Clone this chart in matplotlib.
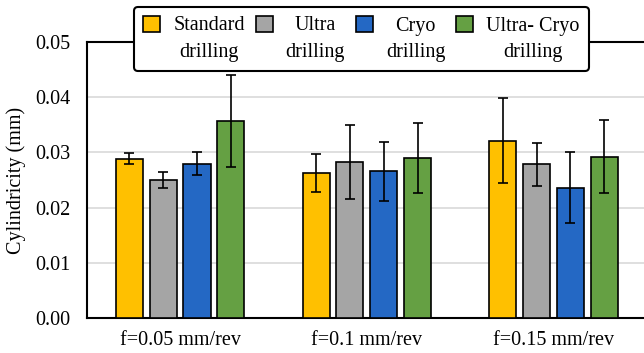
import matplotlib
matplotlib.use("Agg")
import matplotlib.pyplot as plt
import numpy as np
from matplotlib.legend_handler import HandlerPatch, update_from_first_child
from matplotlib.patches import Rectangle
from matplotlib.container import BarContainer

groups = ["f=0.05 mm/rev", "f=0.1 mm/rev", "f=0.15 mm/rev"]
series = ["Standard\ndrilling", "Ultra\ndrilling", "Cryo\ndrilling", "Ultra- Cryo\ndrilling"]
standard = [0.0289, 0.0263, 0.0321]
ultra = [0.0250, 0.0282, 0.0279]
cryo = [0.0280, 0.0266, 0.0236]
ultra_cryo = [0.0357, 0.0290, 0.0292]
standard_err = [0.0010, 0.0035, 0.0077]
ultra_err = [0.0015, 0.0067, 0.0039]
cryo_err = [0.0021, 0.0053, 0.0064]
ultra_cryo_err = [0.0084, 0.0063, 0.0066]
yticks = [0.00, 0.01, 0.02, 0.03, 0.04, 0.05]

values = [standard, ultra, cryo, ultra_cryo]
errors = [standard_err, ultra_err, cryo_err, ultra_cryo_err]
colors = ["#FFC000", "#A5A5A5", "#2468C4", "#65A043"]

plt.rcParams['font.family'] = ['Liberation Serif', 'DejaVu Serif']
plt.rcParams['font.size'] = 14.5

fig = plt.figure(figsize=(6.44, 3.53), dpi=100)
ax = fig.add_axes([0.1346, 0.0983, 0.870, 0.783])

x = np.arange(len(groups))
step = 0.181
width = 0.145
for i, (vals, errs, c, lab) in enumerate(zip(values, errors, colors, series)):
    off = (i - 1.5) * step
    ax.bar(x + off, vals, width, color=c, edgecolor="black", linewidth=1.2,
           label=lab, zorder=3,
           yerr=errs, error_kw=dict(ecolor="black", elinewidth=1.2, capsize=3.5, capthick=1.2, zorder=4))

ax.set_xlim(-0.5, 2.5)
ax.set_ylim(0, 0.05)
ax.set_yticks(yticks)
ax.set_yticklabels([f"{t:.2f}" for t in yticks])
ax.set_xticks(x)
ax.set_xticklabels(groups)
ax.tick_params(length=0)
ax.tick_params(axis='y', pad=12)
ax.tick_params(axis='x', pad=9)
ax.yaxis.grid(True, color="#D9D9D9", linewidth=1.2, zorder=0)
ax.set_axisbelow(True)
for s in ax.spines.values():
    s.set_linewidth(1.5)
    s.set_color("black")
ax.set_ylabel("Cylindricity (mm)", labelpad=6)

LS = 1.5
shift = 10.8


def make_rect(legend, orig_handle, xdescent, ydescent, width, height, fontsize):
    return Rectangle((-xdescent, -ydescent + shift), width, height)


leg = ax.legend(ncol=4, loc="center", bbox_to_anchor=(361.5 / 644, 1 - 39 / 353),
                bbox_transform=fig.transFigure, frameon=True, fancybox=True,
                edgecolor="black", framealpha=1, handlelength=0.83, handleheight=0.83,
                columnspacing=0.55, handletextpad=0.65, borderpad=0.45, fontsize=14.5,
                handler_map={BarContainer: HandlerPatch(patch_func=make_rect,
                                                        update_func=update_from_first_child)})
leg.get_frame().set_linewidth(1.5)
leg.set_zorder(10)
for t in leg.get_texts():
    t.set_multialignment("center")
    t.set_linespacing(LS)
for h in leg.legend_handles:
    h.set_linewidth(1.2)

fig.savefig("out.png", dpi=100)
